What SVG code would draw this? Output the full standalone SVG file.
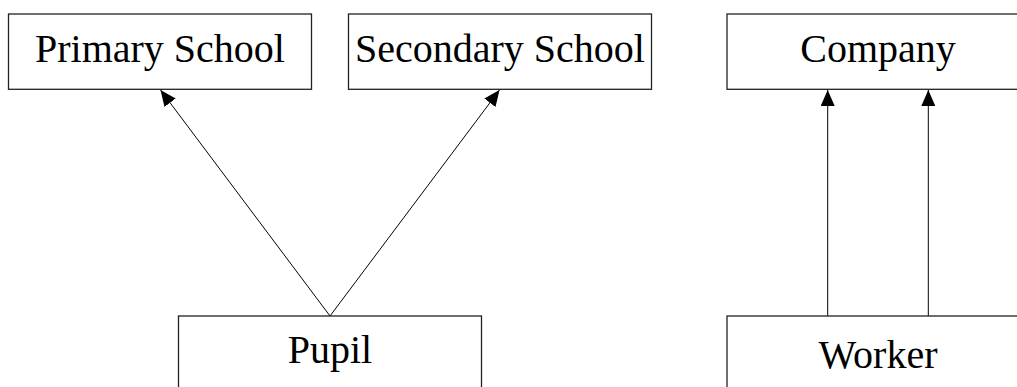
<svg xmlns="http://www.w3.org/2000/svg" width="1017" height="387" viewBox="0 0 1017 387">
<style>
.box{fill:#fff;stroke:#222;stroke-width:1.3}
.lbl{font-family:"Liberation Serif",serif;font-size:40px;fill:#000;text-anchor:middle}
.edge{stroke:#000;stroke-width:1;fill:none;marker-end:url(#ah)}
</style>
<defs>
<marker id="ah" markerUnits="userSpaceOnUse" markerWidth="17" markerHeight="15" refX="16" refY="7" orient="auto">
<path d="M0,0 L16,7 L0,14 Z" fill="#000"/>
</marker>
</defs>
<rect width="1017" height="387" fill="#fff"/>
<g id="edges">
<line class="edge" x1="330" y1="316" x2="160.5" y2="90"/>
<line class="edge" x1="330" y1="316" x2="499.5" y2="90"/>
<line class="edge" x1="827.7" y1="316" x2="827.7" y2="90"/>
<line class="edge" x1="928.3" y1="316" x2="928.3" y2="90"/>
</g>
<g id="primary">
<rect class="box" x="8.5" y="14" width="303" height="75.3"/>
<text class="lbl" x="160" y="62">Primary School</text>
</g>
<g id="secondary">
<rect class="box" x="348.5" y="14" width="303" height="75.3"/>
<text class="lbl" x="500" y="62">Secondary School</text>
</g>
<g id="company">
<rect class="box" x="727" y="14" width="303" height="75.3"/>
<text class="lbl" x="878" y="62">Company</text>
</g>
<g id="pupil">
<rect class="box" x="178.5" y="316" width="303" height="90"/>
<text class="lbl" x="330" y="363">Pupil</text>
</g>
<g id="worker">
<rect class="box" x="727" y="316" width="303" height="90"/>
<text class="lbl" x="878" y="368">Worker</text>
</g>
</svg>
